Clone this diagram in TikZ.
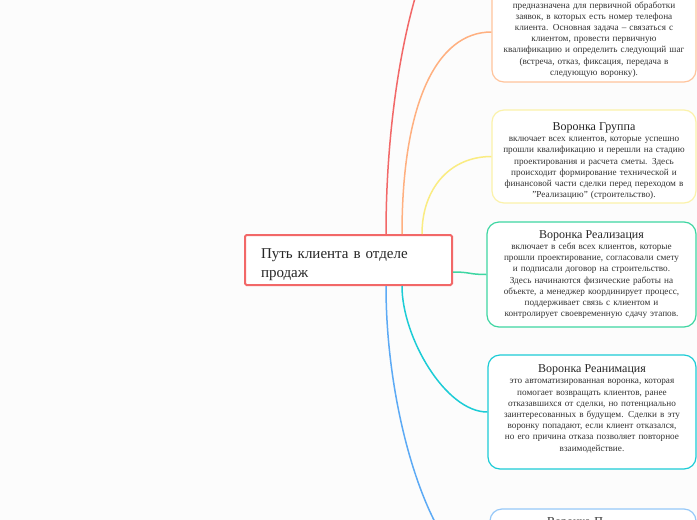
\documentclass[tikz,border=0pt]{standalone}
\usepackage{fontspec}
\setmainfont{Liberation Serif}
\usetikzlibrary{positioning}

\definecolor{topicred}{RGB}{242,104,104}
\definecolor{funorange}{RGB}{255,176,128}
\definecolor{funorangebox}{RGB}{255,196,156}
\definecolor{funyellow}{RGB}{250,236,130}
\definecolor{funyellowbox}{RGB}{251,242,170}
\definecolor{fungreen}{RGB}{62,214,162}
\definecolor{funcyan}{RGB}{28,204,214}
\definecolor{funblue}{RGB}{92,170,245}
\definecolor{funbluebox}{RGB}{150,200,248}

\begin{document}
\begin{tikzpicture}[x=1pt, y=-1pt,
    topic/.style={draw=topicred, fill=white, line width=2pt, rounded corners=1.5pt, minimum width=207pt, minimum height=50pt, text width=175pt, align=left, font=\fontsize{15}{19}\selectfont, text=black!85},
    funnel/.style={draw, fill=white, line width=1.2pt, rounded corners=12pt, text width=196pt, align=center, inner xsep=3pt, font=\fontsize{9.2}{11.2}\selectfont, text=black!80},
    title/.style={font=\fontsize{12}{14}\selectfont},
    link/.style={line width=1.5pt}
]
\useasboundingbox[fill=black!1] (0,0) rectangle (697,520);

% Central topic
\node[topic] (topic) at (348.5,260) {\rule{0pt}{19.5pt}Путь клиента в отделе\\продаж};

% Funnels
\node[funnel, draw=funorangebox, minimum width=204pt, minimum height=100pt] (box1) at (594,32) {\rule{0pt}{21.5pt}предназначена для первичной обработки\\заявок, в которых есть номер телефона\\клиента. Основная задача – связаться с\\клиентом, провести первичную\\квалификацию и определить следующий шаг\\(встреча, отказ, фиксация, передача в\\следующую воронку).};
\node[funnel, draw=funyellowbox, minimum width=204pt, minimum height=93pt] (box2) at (594,156.5) {\rule{0pt}{17pt}{\fontsize{12}{14}\selectfont\color{black!85}Воронка Группа}\\включает всех клиентов, которые успешно\\прошли квалификацию и перешли на стадию\\проектирования и расчета сметы. Здесь\\происходит формирование технической и\\финансовой части сделки перед переходом в\\"Реализацию" (строительство).};
\node[funnel, draw=fungreen, minimum width=209pt, minimum height=105pt] (box3) at (591.5,274.5) {{\fontsize{12}{14}\selectfont\color{black!85}Воронка Реализация}\\включает в себя всех клиентов, которые\\прошли проектирование, согласовали смету\\и подписали договор на строительство.\\Здесь начинаются физические работы на\\объекте, а менеджер координирует процесс,\\поддерживает связь с клиентом и\\контролирует своевременную сдачу этапов.};
\node[funnel, draw=funcyan, minimum width=208pt, minimum height=114pt] (box4) at (592,412) {{\fontsize{12}{14}\selectfont\color{black!85}Воронка Реанимация}\\это автоматизированная воронка, которая\\помогает возвращать клиентов, ранее\\отказавшихся от сделки, но потенциально\\заинтересованных в будущем. Сделки в эту\\воронку попадают, если клиент отказался,\\но его причина отказа позволяет повторное\\взаимодействие.\rule[-8pt]{0pt}{8pt}};
\node[funnel, draw=funbluebox, title, text=black!85, text width=92pt, align=left, minimum width=206pt, minimum height=130pt, text depth=105pt] (box5) at (593,574) {Воронка П};
\coordinate (upper) at (490,-110);

% Connectors
\draw[link, topicred] ([xshift=142pt]topic.north west) .. controls +(0,-175) and +(-60,0) .. (upper);
\draw[link, funorange] ([xshift=158pt]topic.north west) .. controls +(0,-130) and +(-55,0) .. (box1.west);
\draw[link, funyellow] ([xshift=178pt]topic.north west) .. controls +(0,-46) and +(-41,0) .. (box2.west);
\draw[link, fungreen] ([yshift=-12pt]topic.east) .. controls +(18,0) and +(-18,0) .. (box3.west);
\draw[link, funcyan] ([xshift=158pt]topic.south west) .. controls +(0,51) and +(-42,0) .. (box4.west);
\draw[link, funblue] ([xshift=142pt]topic.south west) .. controls +(0,140) and +(-52,0) .. (box5.west);

\end{tikzpicture}
\end{document}
